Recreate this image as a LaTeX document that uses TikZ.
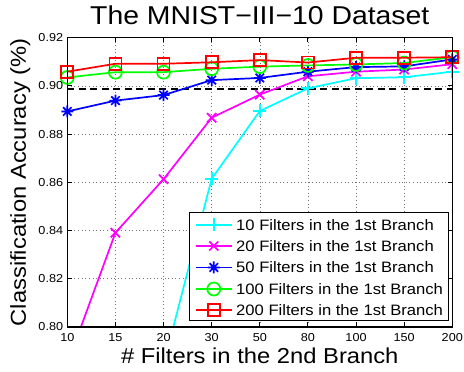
\documentclass[tikz,border=0pt]{standalone}
\usepackage{fontspec}
\setmainfont{Liberation Sans}[FakeStretch=1.1]
\usepackage{tikz}
\usetikzlibrary{plotmarks}
\definecolor{matCyan}{rgb}{0,1,1}
\definecolor{matMagenta}{rgb}{1,0,1}
\definecolor{matBlue}{rgb}{0,0,1}
\definecolor{matGreen}{rgb}{0,1,0}
\definecolor{matRed}{rgb}{1,0,0}

\pgfdeclareplotmark{star8}{%
  \pgfpathmoveto{\pgfqpoint{-\pgfplotmarksize}{0pt}}%
  \pgfpathlineto{\pgfqpoint{\pgfplotmarksize}{0pt}}%
  \pgfpathmoveto{\pgfqpoint{0pt}{-\pgfplotmarksize}}%
  \pgfpathlineto{\pgfqpoint{0pt}{\pgfplotmarksize}}%
  \pgfpathmoveto{\pgfqpoint{-0.7071\pgfplotmarksize}{-0.7071\pgfplotmarksize}}%
  \pgfpathlineto{\pgfqpoint{0.7071\pgfplotmarksize}{0.7071\pgfplotmarksize}}%
  \pgfpathmoveto{\pgfqpoint{-0.7071\pgfplotmarksize}{0.7071\pgfplotmarksize}}%
  \pgfpathlineto{\pgfqpoint{0.7071\pgfplotmarksize}{-0.7071\pgfplotmarksize}}%
  \pgfusepathqstroke}

\begin{document}
\begin{tikzpicture}[
  every node/.style={inner sep=0pt},
  axisline/.style={black, line width=1.1pt},
  gridline/.style={black!55, line width=0.6pt, dash pattern=on 1pt off 2.6pt},
  ticklab/.style={font=\fontsize{11.5}{13}\selectfont},
  tenline/.style={matCyan, line width=1.7pt, mark=+, mark size=6.5pt, mark options={solid}},
  twentyline/.style={matMagenta, line width=1.7pt, mark=x, mark size=6.5pt, mark options={solid}},
  fiftyline/.style={matBlue, line width=1.7pt, mark=star8, mark size=6pt, mark options={solid}},
  hundredline/.style={matGreen, line width=1.7pt, mark=o, mark size=6.5pt, mark options={solid}},
  twohundredline/.style={matRed, line width=1.7pt, mark=square, mark size=6pt, mark options={solid}}
]
 \useasboundingbox (-67.3pt,-45pt) rectangle (396.7pt,327pt);

 \begin{scope}[x=48.125pt, y=2410.8pt, yshift=-1928.64pt]
  % grid
  \foreach \i in {1,...,7} \draw[gridline] (\i,0.80) -- (\i,0.92);
  \foreach \v in {0.82,0.84,0.86,0.88,0.90} \draw[gridline] (0,\v) -- (8,\v);
  % reference level
  \draw[black, line width=1.7pt, dash pattern=on 7pt off 4.5pt] (0,0.8988) -- (8,0.8988);
  % curves (first two start where they leave the bottom edge)
  \draw[tenline, mark phase=2] plot coordinates {(2.203,0.80) (3,0.8615) (4,0.8896) (5,0.8990) (6,0.9032) (7,0.9036) (8,0.9059)};
  \draw[twentyline, mark phase=2] plot coordinates {(0.283,0.80) (1,0.8391) (2,0.8613) (3,0.8868) (4,0.8964) (5,0.9040) (6,0.9059) (7,0.9068) (8,0.9090)};
  \draw[fiftyline] plot coordinates {(0,0.8894) (1,0.8939) (2,0.8962) (3,0.9024) (4,0.9033) (5,0.9059) (6,0.9078) (7,0.9081) (8,0.9110)};
  \draw[hundredline] plot coordinates {(0,0.9035) (1,0.9057) (2,0.9057) (3,0.9071) (4,0.9080) (5,0.9085) (6,0.9089) (7,0.9095) (8,0.9119)};
  \draw[twohundredline] plot coordinates {(0,0.9059) (1,0.9092) (2,0.9092) (3,0.9098) (4,0.9107) (5,0.9097) (6,0.9117) (7,0.9117) (8,0.9119)};
  % box and ticks
  \draw[axisline] (0,0.80) rectangle (8,0.92);
  \foreach \lab [count=\i from 0] in {10,15,20,30,50,80,100,150,200} {
    \draw[axisline] (\i,0.80) -- ++(0pt,4.5pt) (\i,0.92) -- ++(0pt,-4.5pt);
    \node[ticklab, anchor=north] (xt\i) at ([yshift=-6.5pt]\i,0.80) {\lab};
  }
  \foreach \v [count=\j] in {0.80,0.82,0.84,0.86,0.88,0.90,0.92} {
    \draw[axisline] (0,\v) -- ++(4.5pt,0pt) (8,\v) -- ++(-4.5pt,0pt);
    \node[ticklab, anchor=east] (yt\j) at ([xshift=-4pt]0,\v) {\v};
  }
 \end{scope}

 % labels
 \node[anchor=base, font=\fontsize{25.8}{30}\selectfont] (title) at (192.5pt,302pt) {The MNIST−III−10 Dataset};
 \node[anchor=base, font=\fontsize{21.6}{26}\selectfont] (xlab) at (192.5pt,-37pt) {\# Filters in the 2nd Branch};
 \node[anchor=base, rotate=90, font=\fontsize{21.6}{26}\selectfont] (ylab) at (-41.5pt,144.6pt) {Classification Accuracy (\%)};

 % legend
 \draw[black, fill=white, line width=1pt] (122pt,6.3pt) rectangle (381pt,114.7pt);
 \foreach \sty/\lab/\y in {tenline/10/102, twentyline/20/81, fiftyline/50/59.5, hundredline/100/38, twohundredline/200/17} {
   \draw[\sty, mark phase=2, mark repeat=2] plot coordinates {(128.7pt,\y pt) (146.5pt,\y pt) (164.4pt,\y pt)};
   \node[anchor=west, font=\fontsize{15.1}{18}\selectfont] (leg\lab) at (168.7pt,\y pt) {\lab\ Filters in the 1st Branch};
 }
\end{tikzpicture}
\end{document}
